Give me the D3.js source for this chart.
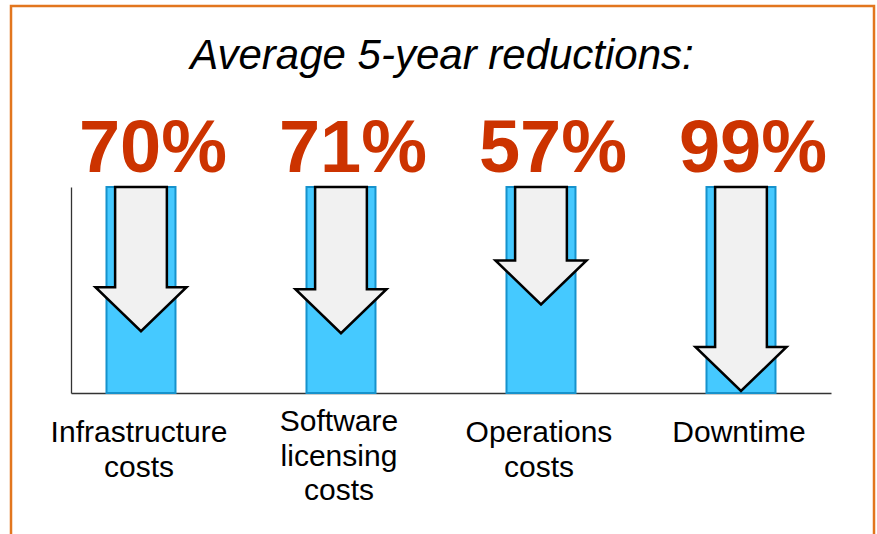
<!DOCTYPE html>
<html lang="en">
<head>
  <meta charset="UTF-8">
  <title>Average 5-year reductions</title>
  <script src="https://cdn.jsdelivr.net/npm/d3@7"></script>
  <style>
    body { margin: 0; background: #fff; }
    svg { display: block; font-family: Arial, "Liberation Sans", sans-serif; }
  </style>
</head>
<body>
<script>
  const title = 'Average 5-year reductions:';
  const categories = ['Infrastructure costs', 'Software licensing costs', 'Operations costs', 'Downtime'];
  const labelLines = [['Infrastructure', 'costs'], ['Software', 'licensing', 'costs'], ['Operations', 'costs'], ['Downtime']];
  const baseline = [100, 100, 100, 100];   // cost before, as 100%
  const reductions = [70, 71, 57, 99];     // % reduction

  const width = 877;
  const height = 534;
  const margin = {top: 187, bottom: 141, left: 71, right: 46};

  const svg = d3.select('body').append('svg')
    .attr('width', width)
    .attr('height', height);

  // orange frame
  svg.append('rect')
    .attr('x', 11).attr('y', 6)
    .attr('width', 863).attr('height', 560)
    .attr('fill', 'none')
    .attr('stroke', '#e2761e')
    .attr('stroke-width', 2.5);

  const x = d3.scaleBand()
    .domain(categories)
    .range([margin.left, width - margin.right])
    .paddingInner(0.655)
    .paddingOuter(0.2275)
    .align(0.39);

  const y = d3.scaleLinear()
    .domain([0, 100])
    .range([height - margin.bottom, margin.top]);

  const data = categories.map((c, i) => ({
    cat: c, lines: labelLines[i], base: baseline[i], pct: reductions[i]
  }));

  // axes: just the two lines, no ticks
  svg.append('g')
    .attr('transform', `translate(${margin.left},0)`)
    .call(d3.axisLeft(y).ticks(0).tickSizeOuter(0))
    .call(g => g.select('.domain').attr('stroke', '#333').attr('stroke-width', 1.3));

  svg.append('g')
    .attr('transform', `translate(0,${y(0)})`)
    .call(d3.axisBottom(x).tickSize(0).tickFormat(''))
    .call(g => g.select('.domain').attr('stroke', '#333').attr('stroke-width', 1.3));

  // blue bars
  svg.append('g').selectAll('rect')
    .data(data)
    .join('rect')
    .attr('x', d => x(d.cat))
    .attr('y', d => y(d.base))
    .attr('width', x.bandwidth())
    .attr('height', d => y(0) - y(d.base))
    .attr('fill', '#45c9ff')
    .attr('stroke', '#1692cc')
    .attr('stroke-width', 2);

  // down arrows, length = reduction
  const bw = x.bandwidth();
  const shaft = bw * 0.375;
  const head = bw * 0.66;
  const headH = 44;
  const arrow = d => {
    const cx = x(d.cat) + bw / 2;
    const top = y(d.base);
    const tip = y(d.base - d.pct);
    const neck = tip - headH;
    return d3.line()([
      [cx - shaft, top], [cx + shaft, top], [cx + shaft, neck], [cx + head, neck],
      [cx, tip], [cx - head, neck], [cx - shaft, neck]
    ]) + 'Z';
  };

  svg.append('g').selectAll('path')
    .data(data)
    .join('path')
    .attr('d', arrow)
    .attr('fill', '#f1f1f1')
    .attr('stroke', '#000')
    .attr('stroke-width', 2.5)
    .attr('stroke-linejoin', 'miter');

  // percent labels
  svg.append('g').selectAll('text')
    .data(data)
    .join('text')
    .attr('x', d => x(d.cat) + bw / 2 + 12)
    .attr('y', 172)
    .attr('text-anchor', 'middle')
    .attr('font-size', 74)
    .attr('font-weight', 'bold')
    .attr('fill', '#cc3300')
    .text(d => d.pct + '%');

  // category labels
  svg.append('g').selectAll('text')
    .data(data)
    .join('text')
    .attr('x', d => x(d.cat) + bw / 2 - 2)
    .attr('y', d => d.lines.length > 2 ? 431 : 442)
    .attr('text-anchor', 'middle')
    .attr('font-size', 30)
    .attr('fill', '#000')
    .selectAll('tspan')
    .data(d => d.lines)
    .join('tspan')
    .attr('x', function () { return this.parentNode.getAttribute('x'); })
    .attr('dy', (d, i) => i === 0 ? 0 : 34.5)
    .text(d => d);

  // title
  svg.append('text')
    .attr('x', 442)
    .attr('y', 69)
    .attr('text-anchor', 'middle')
    .attr('font-size', 42)
    .attr('font-style', 'italic')
    .attr('fill', '#000')
    .text(title);
</script>
</body>
</html>
